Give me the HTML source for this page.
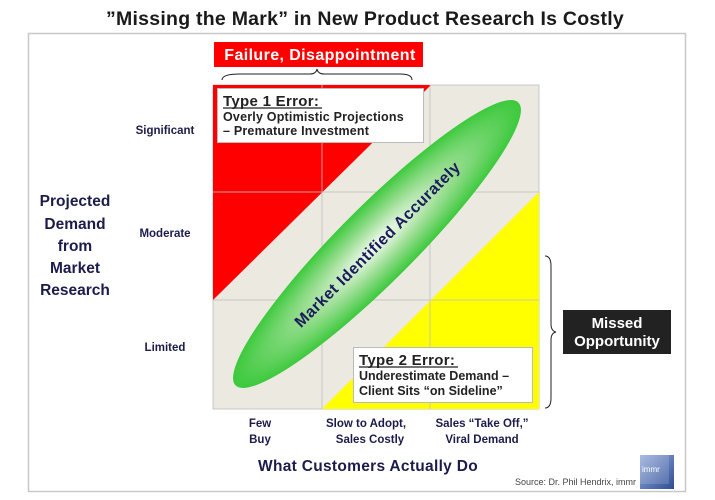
<!DOCTYPE html>
<html><head><meta charset="utf-8"><style>
html,body{margin:0;padding:0;background:#fff;}
svg{display:block;font-family:"Liberation Sans",Arial,sans-serif;font-weight:bold;}
</style></head><body>
<svg width="715" height="500" viewBox="0 0 715 500" xmlns="http://www.w3.org/2000/svg">
<defs>
<radialGradient id="g" cx="0.5" cy="0.5" r="0.5">
<stop offset="0" stop-color="#f4fbf2"/><stop offset="0.5" stop-color="#9ade92"/><stop offset="1" stop-color="#3cc93c"/>
</radialGradient>
<linearGradient id="lg" x1="0" y1="0" x2="1" y2="1"><stop offset="0" stop-color="#9ab0dd"/><stop offset="1" stop-color="#2d4c94"/></linearGradient>
</defs>
<text x="365" y="25" text-anchor="middle" font-size="19.5" fill="#1a1a1a" letter-spacing="0.25">”Missing the Mark” in New Product Research Is Costly</text>
<rect x="28.5" y="33.5" width="657" height="458" fill="#fff" stroke="#c8c8c8" stroke-width="1.5"/>
<rect x="213" y="85" width="326" height="324" fill="#ece9e0" stroke="#c8c8c8"/>
<polygon points="213,85 431,85 213,300" fill="#ff0000"/>
<polygon points="539,192 539,409 322,409" fill="#ffff00"/>
<g stroke="#c0c0c0" stroke-width="1" opacity="0.8">
<line x1="322" y1="85" x2="322" y2="409"/><line x1="430" y1="85" x2="430" y2="409"/>
<line x1="213" y1="192" x2="539" y2="192"/><line x1="213" y1="300" x2="539" y2="300"/>
</g>
<g transform="translate(377,244) rotate(-45)">
<ellipse cx="0" cy="0" rx="200" ry="38" fill="url(#g)"/>
<text x="0" y="6" text-anchor="middle" font-size="16" fill="#1c1c5c" letter-spacing="0.5">Market  Identified  Accurately</text>
</g>
<rect x="214" y="42" width="209" height="25" fill="#ff0000"/>
<text x="320" y="60" text-anchor="middle" font-size="16" fill="#fff" letter-spacing="0.4">Failure,  Disappointment</text>
<path d="M222,80 Q222,74 240,74 L310,74 Q316,74 317,69 Q318,74 324,74 L400,74 Q412,74 412,80" fill="none" stroke="#222" stroke-width="1"/>
<rect x="217.5" y="88.5" width="206" height="54" fill="#fff" stroke="#bbb"/>
<text x="223" y="106" font-size="15" fill="#222" letter-spacing="0.3">Type  1 Error:</text>
<line x1="223" y1="108" x2="322" y2="108" stroke="#222" stroke-width="1.2"/>
<text x="223" y="121" font-size="12.5" fill="#222" letter-spacing="0.2">Overly Optimistic Projections</text>
<text x="223" y="135" font-size="12.5" fill="#222" letter-spacing="0.2">– Premature Investment</text>
<rect x="353.5" y="347.5" width="179" height="55" fill="#fff" stroke="#bbb"/>
<text x="359" y="365" font-size="15" fill="#222" letter-spacing="0.3">Type  2 Error:</text>
<line x1="359" y1="367" x2="458" y2="367" stroke="#222" stroke-width="1.2"/>
<text x="359" y="380" font-size="12.5" fill="#222">Underestimate Demand –</text>
<text x="359" y="395" font-size="12.5" fill="#222">Client Sits “on Sideline”</text>
<path d="M545,256 Q551,256 551,266 L551,324 Q551,331 556,332 Q551,333 551,340 L551,398 Q551,408 545,408" fill="none" stroke="#222" stroke-width="1"/>
<rect x="563" y="310" width="108" height="44" fill="#222"/>
<text x="617" y="328" text-anchor="middle" font-size="15" fill="#fff">Missed</text>
<text x="617" y="346" text-anchor="middle" font-size="15" fill="#fff">Opportunity</text>
<g fill="#1c1c4c" text-anchor="middle">
<text x="75" y="206" font-size="15.5">Projected</text>
<text x="75" y="229" font-size="15.5">Demand</text>
<text x="75" y="251" font-size="15.5">from</text>
<text x="75" y="273" font-size="15.5">Market</text>
<text x="75" y="295" font-size="15.5">Research</text>
<text x="165" y="134" font-size="11.5">Significant</text>
<text x="165" y="237" font-size="11.5">Moderate</text>
<text x="165" y="351" font-size="11.5">Limited</text>
<text x="260" y="427" font-size="11.5">Few</text>
<text x="260" y="443" font-size="11.5">Buy</text>
<text x="366" y="427" font-size="11.5">Slow to Adopt,</text>
<text x="370" y="443" font-size="11.5">Sales Costly</text>
<text x="482" y="427" font-size="11.5">Sales “Take Off,”</text>
<text x="482" y="443" font-size="11.5">Viral Demand</text>
<text x="368" y="471" font-size="15.5" letter-spacing="0.3">What Customers  Actually  Do</text>
</g>
<text x="636" y="485" text-anchor="end" font-size="9" fill="#444" font-weight="normal">Source: Dr. Phil Hendrix, immr</text>
<rect x="640" y="455" width="34" height="34" fill="url(#lg)"/>
<rect x="640" y="455" width="29" height="29" fill="#fff" opacity="0.15"/>
<text x="642" y="472" font-size="8" fill="#fff" font-weight="normal">immr</text>
</svg>
</body></html>
